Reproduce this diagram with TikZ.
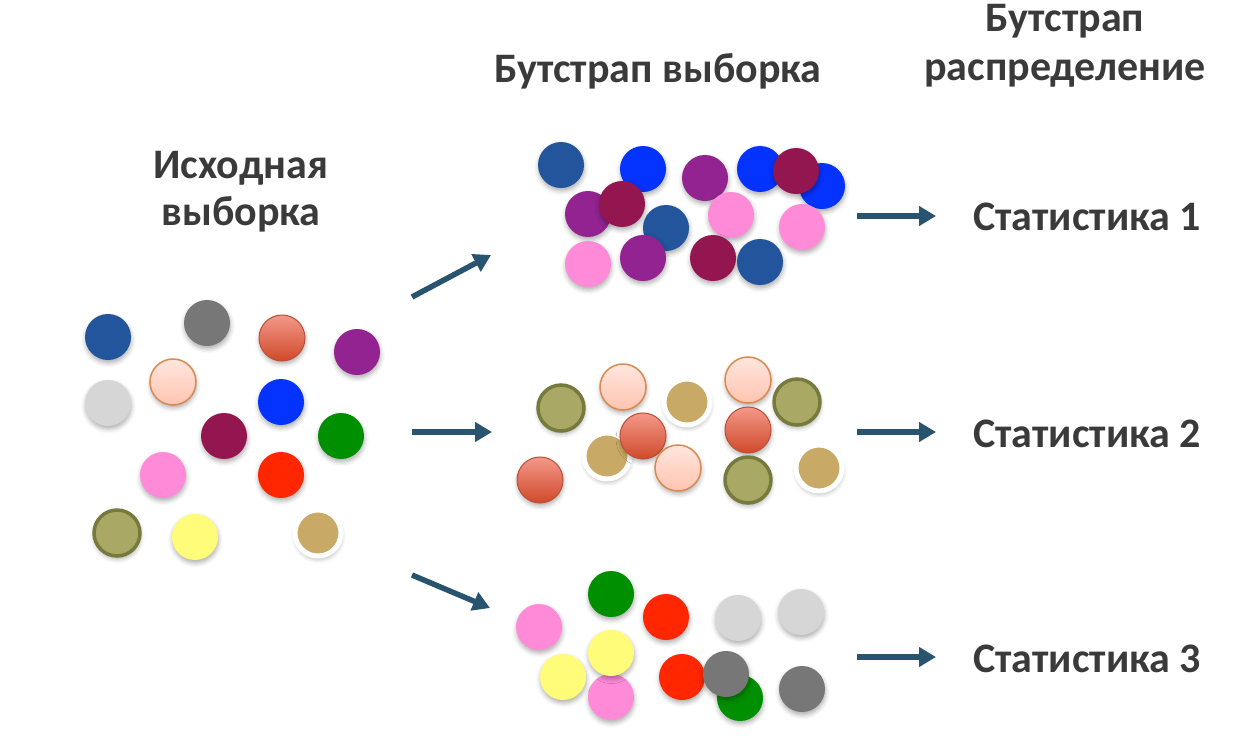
\documentclass[tikz,border=0pt]{standalone}
\usepackage{fontspec}
\setmainfont{Carlito}
\usetikzlibrary{arrows.meta,shadows.blur}
\definecolor{cText}{HTML}{3A3A3A}
\definecolor{cArrow}{HTML}{285470}
\definecolor{cNavy}{HTML}{22559C}
\definecolor{cGray}{HTML}{777777}
\definecolor{cLgray}{HTML}{D6D6D6}
\definecolor{cPurple}{HTML}{922390}
\definecolor{cBlue}{HTML}{0433FF}
\definecolor{cMaroon}{HTML}{941651}
\definecolor{cGreen}{HTML}{008F00}
\definecolor{cPink}{HTML}{FF8AD8}
\definecolor{cRed}{HTML}{FF2600}
\definecolor{cYellow}{HTML}{FFFC79}
\definecolor{cOlive}{HTML}{A9A965}
\definecolor{cOliveEdge}{HTML}{767A3C}
\definecolor{cTan}{HTML}{C9A966}
\definecolor{cSalmonTop}{HTML}{F4988A}
\definecolor{cSalmonBot}{HTML}{D04A2A}
\definecolor{cSalmonEdge}{HTML}{B85038}
\definecolor{cPeachTop}{HTML}{FFE6DE}
\definecolor{cPeachBot}{HTML}{FFC4B0}
\definecolor{cPeachEdge}{HTML}{D98A50}
\tikzset{
  ball/.style={circle, minimum size=46pt, inner sep=0pt,
    blur shadow={shadow xshift=0.5pt, shadow yshift=-3pt, shadow blur radius=4.5pt, shadow opacity=32}},
  b-navy/.style={ball, fill=cNavy},
  b-gray/.style={ball, fill=cGray},
  b-lgray/.style={ball, fill=cLgray},
  b-purple/.style={ball, fill=cPurple},
  b-blue/.style={ball, fill=cBlue},
  b-maroon/.style={ball, fill=cMaroon},
  b-green/.style={ball, fill=cGreen},
  b-pink/.style={ball, fill=cPink},
  b-red/.style={ball, fill=cRed},
  b-yellow/.style={ball, fill=cYellow},
  b-olive/.style={ball, fill=cOlive, draw=cOliveEdge, line width=3.5pt},
  b-tan/.style={ball, fill=cTan, draw=white, line width=5pt},
  b-salmon/.style={ball, top color=cSalmonTop, bottom color=cSalmonBot, draw=cSalmonEdge, line width=1pt},
  b-peach/.style={ball, top color=cPeachTop, bottom color=cPeachBot, draw=cPeachEdge, line width=1.5pt},
  headtext/.style={font=\bfseries\fontsize{42pt}{50pt}\selectfont, text=cText, inner sep=0pt},
  flowarrow/.style={-{Triangle[length=17pt,width=19pt]}, line width=5.5pt, draw=cArrow}
}

\begin{document}
\begin{tikzpicture}[x=1pt, y=-1pt]
    \useasboundingbox (0,0) rectangle (1258,753);
    % headings
    \node[headtext, anchor=base] (src1) at (241,178) {Исходная};
    \node[headtext, anchor=base] (src2) at (241,225) {выборка};
    \node[headtext, anchor=base] (bsam) at (658,82) {Бутстрап выборка};
    \node[headtext, anchor=base] (bdis1) at (1065,31) {Бутстрап};
    \node[headtext, anchor=base] (bdis2) at (1065,80) {распределение};
    \node[headtext, anchor=base west] (st1) at (973,230) {Статистика 1};
    \node[headtext, anchor=base west] (st2) at (973,447) {Статистика 2};
    \node[headtext, anchor=base west] (st3) at (973,672) {Статистика 3};
    % original sample
    \foreach \x/\y/\s [count=\i] in {108/337/navy, 207/323/gray, 282/338/salmon, 357/352/purple,
        173/382/peach, 108/403/lgray, 281/402/blue, 224/436/maroon, 341/436/green, 163/475/pink,
        281/475/red, 117/533/olive, 195/537/yellow, 318/533/tan}
      \node[b-\s] (o\i) at (\x,\y) {};
    % bootstrap sample 1
    \foreach \x/\y/\s [count=\i] in {561/165/navy, 643/169/blue, 705/178/purple, 760/169/blue,
        822/186/blue, 796/171/maroon, 588/214/purple, 622/204/maroon, 666/228/navy, 731/215/pink,
        802/227/pink, 588/264/pink, 643/258/purple, 713/258/maroon, 760/262/navy}
      \node[b-\s] (p\i) at (\x,\y) {};
    % bootstrap sample 2
    \foreach \x/\y/\s [count=\i] in {561/408/olive, 623/387/peach, 687/402/tan, 748/380/peach,
        797/402/olive, 607/456/tan, 643/436/salmon, 678/468/peach, 748/430/salmon, 748/480/olive,
        819/468/tan, 540/480/salmon}
      \node[b-\s] (q\i) at (\x,\y) {};
    % bootstrap sample 3
    \foreach \x/\y/\s [count=\i] in {611/594/green, 539/627/pink, 666/617/red, 738/618/lgray,
        801/612/lgray, 611/697/pink, 611/653/yellow, 563/677/yellow, 682/677/red, 740/698/green,
        726/674/gray, 802/689/gray}
      \node[b-\s] (r\i) at (\x,\y) {};
    % arrows
    \coordinate (a1s) at (412,297);
    \coordinate (a1e) at (491,255);
    \coordinate (a2s) at (412,432);
    \coordinate (a2e) at (492,432);
    \coordinate (a3s) at (412,575);
    \coordinate (a3e) at (490,608);
    \draw[flowarrow] (a1s) -- (a1e);
    \draw[flowarrow] (a2s) -- (a2e);
    \draw[flowarrow] (a3s) -- (a3e);
    \coordinate (s1) at (857,216);
    \coordinate (s2) at (857,432);
    \coordinate (s3) at (857,657);
    \draw[flowarrow] (s1) -- ([xshift=-37pt]st1.west |- s1);
    \draw[flowarrow] (s2) -- ([xshift=-37pt]st2.west |- s2);
    \draw[flowarrow] (s3) -- ([xshift=-37pt]st3.west |- s3);
\end{tikzpicture}
\end{document}
